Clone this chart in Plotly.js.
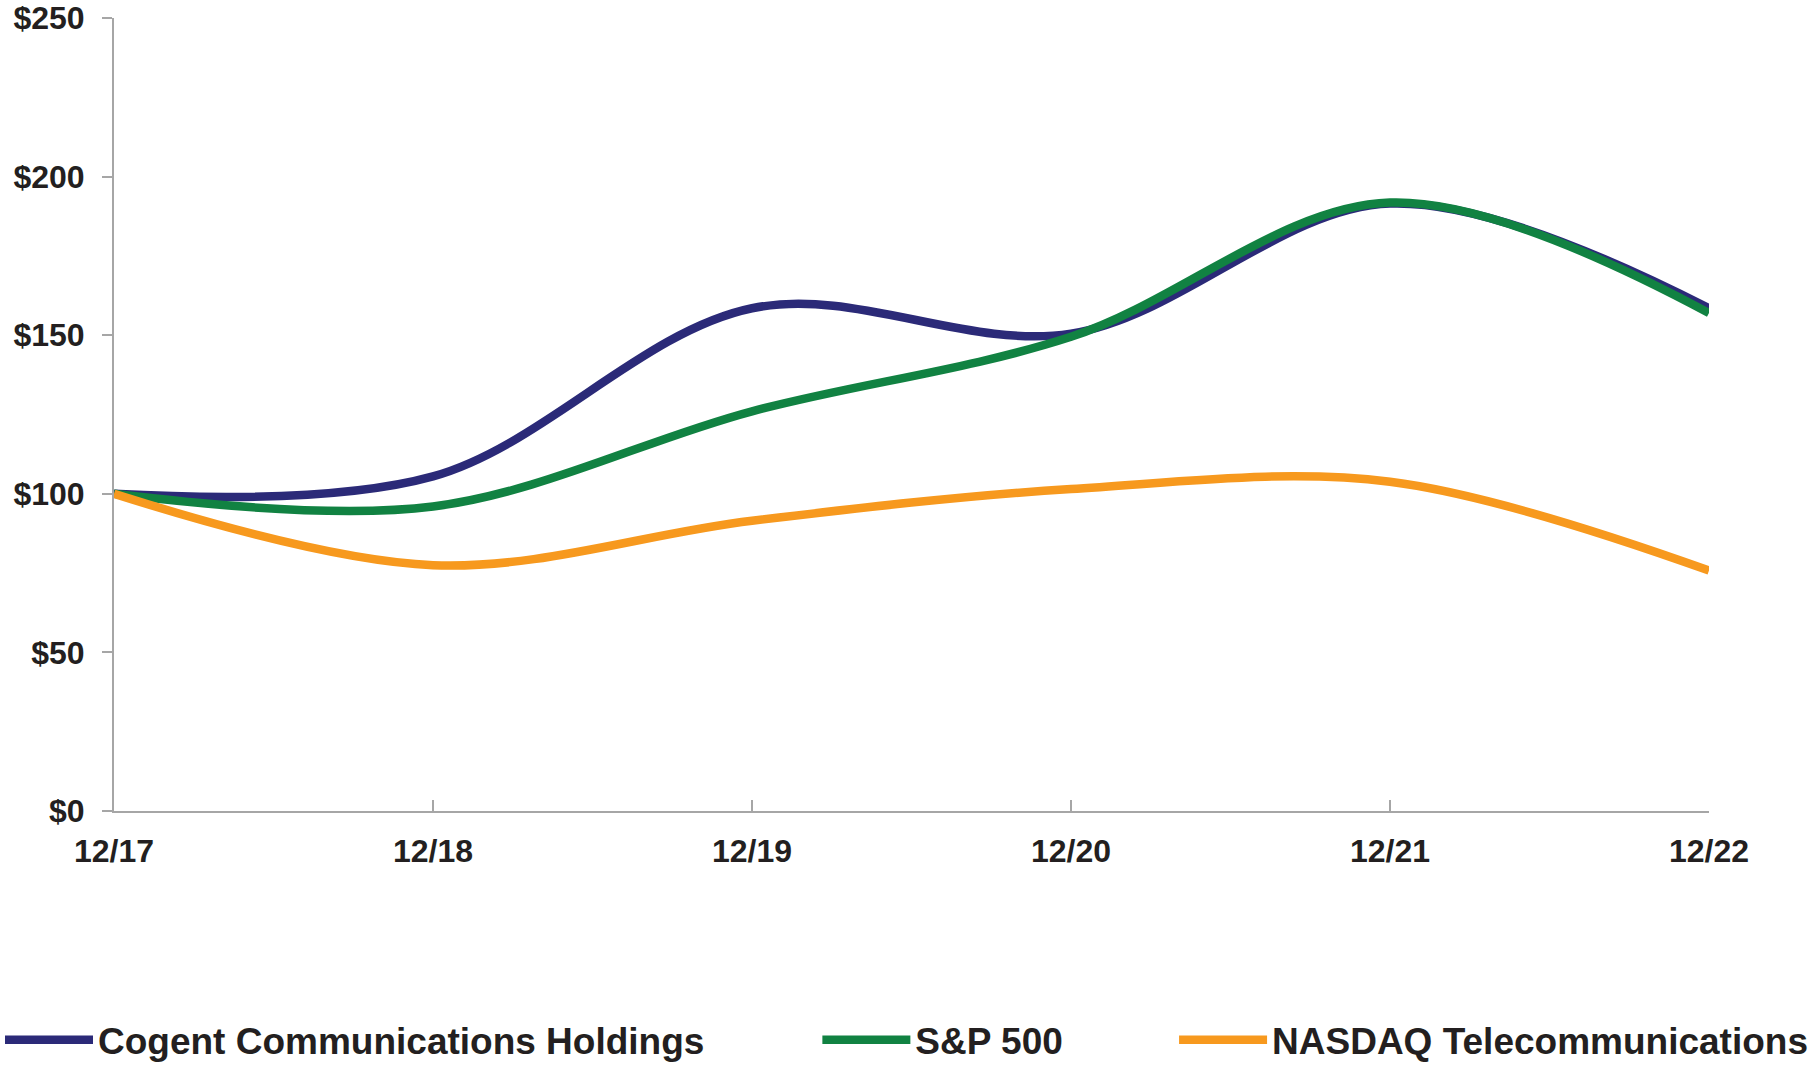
<!DOCTYPE html>
<html>
<head>
<meta charset="utf-8">
<script src="https://cdn.plot.ly/plotly-3.0.1.min.js"></script>
<style>
  html, body { margin: 0; padding: 0; background: #ffffff; }
  #chart { width: 1818px; height: 1068px; }
</style>
</head>
<body>
<div id="chart"></div>
<script>
const periods = ["12/17", "12/18", "12/19", "12/20", "12/21", "12/22"];
const seriesNames = ["Cogent Communications Holdings", "S&P 500", "NASDAQ Telecommunications"];
const cogent = [100, 105.5, 158.5, 150.5, 191.5, 158.5];
const sp500 = [100, 96, 126, 149.5, 191.8, 157];
const nasdaqTel = [100, 77.5, 91.5, 101.5, 103.8, 75.8];
const yTickValues = [0, 50, 100, 150, 200, 250];
const yTickLabels = ["$0", "$50", "$100", "$150", "$200", "$250"];

const colors = ["#2b2a78", "#118242", "#f7991e"];
const values = [cogent, sp500, nasdaqTel];
const legendIds = ["legend", "legend2", "legend3"];

const fontFamily = '"Liberation Sans", Arial, Helvetica, sans-serif';

const traces = values.map((v, i) => ({
  type: "scatter",
  mode: "lines",
  x: periods,
  y: v,
  name: seriesNames[i],
  legend: legendIds[i],
  line: { color: colors[i], width: 8.5, shape: "spline", smoothing: 1 },
  hoverinfo: "skip"
}));

const legendBase = {
  orientation: "h",
  xref: "container",
  yref: "container",
  yanchor: "middle",
  y: 0.026,
  xanchor: "left",
  bgcolor: "rgba(0,0,0,0)",
  borderwidth: 0,
  itemwidth: 88,
  font: { family: fontFamily, size: 37, color: "#231f20", weight: "bold" }
};

const layout = {
  width: 1818,
  height: 1068,
  paper_bgcolor: "#ffffff",
  plot_bgcolor: "#ffffff",
  margin: { l: 114, r: 109, t: 18, b: 257 },
  showlegend: true,
  legend: Object.assign({}, legendBase, { x: -0.0085 }),
  legend2: Object.assign({}, legendBase, { x: 0.4496 }),
  legend3: Object.assign({}, legendBase, { x: 0.6458 }),
  xaxis: {
    type: "category",
    range: [0, 5],
    showgrid: false,
    zeroline: false,
    showline: true,
    linecolor: "#a6a6a6",
    linewidth: 2,
    ticks: "inside",
    ticklen: 11,
    tickwidth: 2,
    tickcolor: "#a6a6a6",
    ticklabelstandoff: 11,
    tickfont: { family: fontFamily, size: 32, color: "#231f20", weight: "bold" },
    fixedrange: true
  },
  yaxis: {
    range: [0, 250],
    tickvals: yTickValues,
    ticktext: yTickLabels,
    showgrid: false,
    zeroline: false,
    showline: true,
    linecolor: "#a6a6a6",
    linewidth: 2,
    ticks: "outside",
    ticklen: 10,
    tickwidth: 2,
    tickcolor: "#a6a6a6",
    ticklabelstandoff: 11,
    tickfont: { family: fontFamily, size: 32, color: "#231f20", weight: "bold" },
    fixedrange: true
  }
};

Plotly.newPlot("chart", traces, layout, { displayModeBar: false, staticPlot: true });
</script>
</body>
</html>
